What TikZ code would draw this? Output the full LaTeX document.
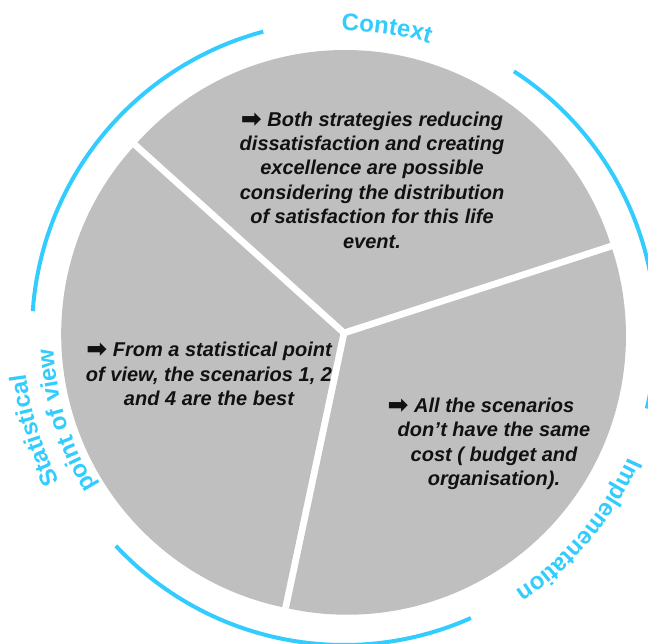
\documentclass[tikz,border=0pt]{standalone}
\usepackage{fontspec}
\setmainfont{Liberation Sans}
\newfontfamily\arrowfont{DejaVu Sans}
\usetikzlibrary{decorations.text}
\definecolor{slicegray}{RGB}{191,191,191}
\definecolor{lblue}{RGB}{51,204,255}
\definecolor{ink}{RGB}{17,17,17}
\newcommand\arr{{\arrowfont\upshape\fontsize{25}{24}\selectfont\raisebox{-1pt}{➡}}}
\newcommand\lblfont{\fontsize{24}{28}\selectfont\bfseries\color{lblue}}
\tikzset{
  slice/.style={fill=slicegray},
  ring/.style={draw=lblue, line width=4pt},
  body/.style={align=center, text=ink, font=\fontsize{20}{24.4}\selectfont\bfseries\itshape, inner sep=0pt},
}
\begin{document}
\begin{tikzpicture}[x=1pt,y=1pt]
\clip (0,0) rectangle (648,644);
\coordinate (C) at (344,311);
% slices
\fill[slice] (C) ++(78:4pt) -- ++(18:279pt) arc[start angle=18,end angle=138,radius=279pt] -- cycle;
\fill[slice] (C) ++(198:4pt) -- ++(138:279pt) arc[start angle=138,end angle=258,radius=279pt] -- cycle;
\fill[slice] (C) ++(318:4pt) -- ++(258:279pt) arc[start angle=258,end angle=378,radius=279pt] -- cycle;
% blue arcs
\draw[ring] (C) ++(105:312pt) arc[start angle=105,end angle=176,radius=312pt];
\draw[ring] (C) ++(57:312pt) arc[start angle=57,end angle=-14,radius=312pt];
\draw[ring] (C) ++(223:312pt) arc[start angle=223,end angle=294,radius=312pt];
% curved labels
\path[decorate, decoration={text along path, text={|\lblfont|Context}, text align=center}]
  (C) ++(110:302pt) arc[start angle=110,end angle=54,radius=302pt];
\path[decorate, decoration={text along path, text={|\lblfont|Implementation}, text align=center}]
  (C) ++(-5:310pt) arc[start angle=-5,end angle=-75,radius=310pt];
\path[decorate, decoration={text along path, text={|\lblfont|Statistical}, text align=center}]
  (C) ++(235:321pt) arc[start angle=235,end angle=160,radius=321pt];
\path[decorate, decoration={text along path, text={|\lblfont|point of view}, text align=center}]
  (C) ++(235:291pt) arc[start angle=235,end angle=160,radius=291pt];
% texts
\node[body] (ttop) at (372,464) {\arr\ Both strategies reducing\\dissatisfaction and creating\\excellence are possible\\considering the distribution\\of satisfaction for this life\\event.};
\node[body] (tleft) at (209,270) {\arr\ From a statistical point\\of view, the scenarios 1, 2\\and 4 are the best};
\node[body] (tright) at (494,200) {\arr\ All the scenarios\hspace*{26pt}\\don’t have the same\\cost ( budget and\\organisation).};
\end{tikzpicture}
\end{document}
